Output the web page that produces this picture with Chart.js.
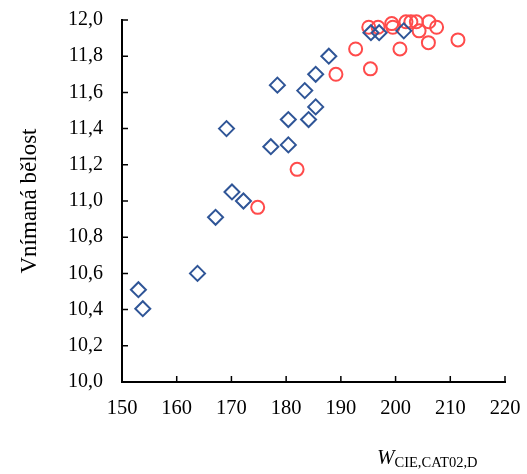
<!DOCTYPE html>
<html>
<head>
<meta charset="utf-8">
<script src="https://cdn.jsdelivr.net/npm/chart.js@4/dist/chart.umd.min.js"></script>
<style>
  body { margin: 0; background: #fff; }
  #wrap { position: relative; width: 527px; height: 474px; }
  #xTitle {
    position: absolute; left: 377px; top: 445px;
    font-family: "Liberation Serif", "Times New Roman", serif;
    font-size: 21px; color: #000; white-space: nowrap;
  }
  #xTitle sub { font-size: 14.5px; vertical-align: -3px; }
</style>
</head>
<body>
<div id="wrap">
  <canvas id="scatter" width="527" height="474"></canvas>
  <div id="xTitle"><i>W</i><sub>CIE,CAT02,D</sub></div>
</div>
<script>
// first group (diamonds)
const blueX = [153.0, 153.8, 163.8, 167.1, 169.1, 170.1, 172.2, 177.2, 178.4, 180.4, 180.4, 183.4, 184.1, 185.4, 185.4, 187.8, 195.5, 197.0, 201.5];
const blueY = [10.51, 10.405, 10.60, 10.91, 11.40, 11.05, 11.00, 11.30, 11.64, 11.31, 11.45, 11.61, 11.45, 11.52, 11.70, 11.80, 11.93, 11.93, 11.94];

// second group (circles)
const redX = [174.8, 182.0, 189.1, 192.7, 195.4, 195.1, 196.8, 199.3, 199.5, 200.8, 201.9, 202.8, 203.8, 204.3, 206.1, 206.0, 207.5, 211.4];
const redY = [10.965, 11.175, 11.70, 11.84, 11.73, 11.96, 11.96, 11.98, 11.96, 11.84, 11.99, 11.99, 11.99, 11.94, 11.99, 11.875, 11.96, 11.89];

const xMin = 150, xMax = 220, xStep = 10;
const yMin = 10, yMax = 12, yStep = 0.2;

const serif = '"Liberation Serif", "Times New Roman", serif';

function toPoints(xs, ys) {
    return xs.map((x, i) => ({ x: x, y: ys[i] }));
}

// short tick marks pointing into the plot area
const innerTicks = {
    id: 'innerTicks',
    afterDatasetsDraw(chart) {
        const c = chart.ctx;
        const xs = chart.scales.x, ys = chart.scales.y;
        const area = chart.chartArea;
        c.save();
        c.strokeStyle = '#000';
        c.lineWidth = 1.5;
        c.beginPath();
        ys.ticks.forEach(t => {
            const py = ys.getPixelForValue(t.value);
            c.moveTo(area.left, py);
            c.lineTo(area.left + 6, py);
        });
        xs.ticks.forEach(t => {
            const px = xs.getPixelForValue(t.value);
            c.moveTo(px, area.bottom);
            c.lineTo(px, area.bottom - 6);
        });
        c.stroke();
        c.restore();
    }
};

new Chart(document.getElementById('scatter').getContext('2d'), {
    type: 'scatter',
    data: {
        datasets: [{
            data: toPoints(blueX, blueY),
            pointStyle: 'rectRot',
            pointRadius: 7.5,
            pointBorderWidth: 2,
            borderColor: '#2f5597',
            backgroundColor: 'rgba(0,0,0,0)',
            clip: false
        }, {
            data: toPoints(redX, redY),
            pointStyle: 'circle',
            pointRadius: 6.5,
            pointBorderWidth: 2,
            borderColor: '#ff4b4b',
            backgroundColor: 'rgba(0,0,0,0)',
            clip: false
        }]
    },
    options: {
        responsive: false,
        animation: false,
        layout: { padding: { top: 20, right: 22, left: 0, bottom: 0 } },
        plugins: {
            legend: { display: false },
            tooltip: { enabled: false }
        },
        scales: {
            x: {
                type: 'linear',
                min: xMin, max: xMax,
                afterFit: s => { s.height = 92; s.paddingLeft = 0; s.paddingRight = 0; },
                border: { color: '#000', width: 2 },
                grid: { drawOnChartArea: false, drawTicks: false },
                ticks: {
                    stepSize: xStep,
                    padding: 14,
                    color: '#000',
                    font: { family: serif, size: 20.5 }
                }
            },
            y: {
                type: 'linear',
                min: yMin, max: yMax,
                afterFit: s => { s.width = 122; s.paddingTop = 0; s.paddingBottom = 0; },
                border: { color: '#000', width: 2 },
                grid: { drawOnChartArea: false, drawTicks: false },
                ticks: {
                    stepSize: yStep,
                    padding: 19,
                    color: '#000',
                    font: { family: serif, size: 20 },
                    callback: v => v.toFixed(1).replace('.', ',')
                },
                title: {
                    display: true,
                    text: 'Vnímaná bělost',
                    color: '#000',
                    font: { family: serif, size: 23 },
                    padding: { top: 16, bottom: 0 }
                }
            }
        }
    },
    plugins: [innerTicks]
});
</script>
</body>
</html>
